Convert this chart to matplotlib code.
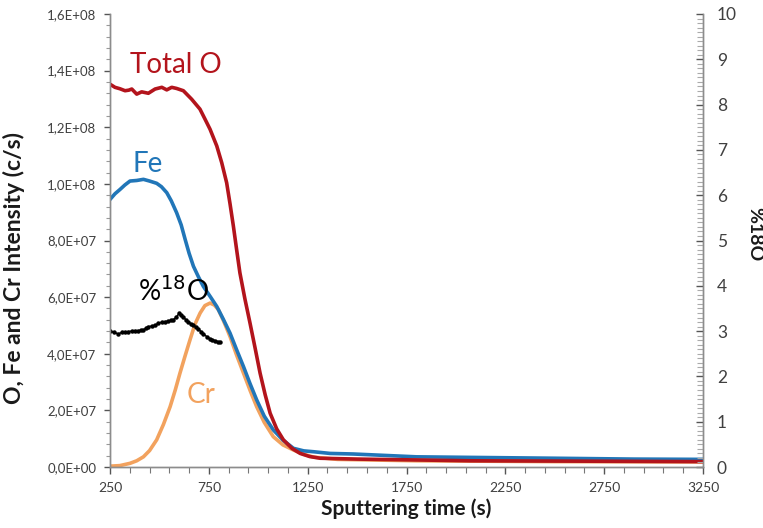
import numpy as np
import matplotlib
matplotlib.use("Agg")
import matplotlib.pyplot as plt
from matplotlib.ticker import MultipleLocator, FuncFormatter

plt.rcParams['font.family'] = ['Lato', 'DejaVu Sans']

# Total O intensity (c/s)
t_o = [250, 275, 300, 326, 345, 360, 385, 410, 444, 478, 512, 537, 562, 587, 621, 663, 705, 731,
       756, 790, 815, 840, 857, 874, 890, 907, 932, 958, 984, 1009, 1035, 1060, 1093, 1127, 1170,
       1212, 1260, 1313, 1500, 1800, 2072, 2500, 2900, 3250]
total_o = [1.352e8, 1.341e8, 1.336e8, 1.329e8, 1.331e8, 1.335e8, 1.317e8, 1.325e8, 1.320e8,
           1.335e8, 1.341e8, 1.332e8, 1.341e8, 1.337e8, 1.329e8, 1.299e8, 1.264e8, 1.228e8,
           1.193e8, 1.134e8, 1.075e8, 1.004e8, 0.930e8, 0.851e8, 0.770e8, 0.686e8, 0.595e8,
           0.509e8, 0.420e8, 0.332e8, 0.255e8, 0.190e8, 0.135e8, 0.096e8, 0.066e8,
           0.048e8, 0.037e8, 0.031e8, 0.028e8, 0.025e8, 0.022e8, 0.021e8, 0.020e8, 0.019e8]

# Fe intensity (c/s)
t_fe = [250, 275, 300, 325, 351, 385, 419, 450, 486, 510, 537, 560, 587, 610, 630, 650, 672, 697,
        722, 756, 790, 823, 857, 890, 925, 958, 992, 1030, 1076, 1125, 1178, 1230,
        1279, 1363, 1480, 1800, 2072, 2500, 2900, 3250]
fe = [0.945e8, 0.965e8, 0.980e8, 0.996e8, 1.010e8, 1.012e8, 1.016e8, 1.010e8, 1.002e8, 0.990e8,
      0.969e8, 0.940e8, 0.898e8, 0.855e8, 0.804e8, 0.755e8, 0.709e8, 0.672e8, 0.638e8, 0.603e8,
      0.567e8, 0.522e8, 0.473e8, 0.415e8, 0.355e8, 0.295e8, 0.237e8, 0.180e8, 0.131e8, 0.095e8,
      0.066e8, 0.057e8, 0.054e8, 0.048e8, 0.046e8, 0.036e8, 0.034e8, 0.031e8, 0.028e8, 0.027e8]

# Cr intensity (c/s)
t_cr = [250, 300, 351, 385, 419, 450, 486, 520, 554, 580, 604, 630, 655, 680, 706, 730, 756, 778,
        798, 825, 857, 890, 925, 960, 992, 1030, 1076, 1125, 1178, 1230, 1280,
        1400, 1800, 2500, 3250]
cr = [0.003e8, 0.005e8, 0.013e8, 0.022e8, 0.036e8, 0.058e8, 0.096e8, 0.150e8, 0.213e8, 0.272e8,
      0.332e8, 0.393e8, 0.450e8, 0.505e8, 0.544e8, 0.570e8, 0.579e8, 0.572e8, 0.556e8, 0.515e8,
      0.461e8, 0.396e8, 0.332e8, 0.268e8, 0.213e8, 0.158e8, 0.107e8, 0.078e8, 0.060e8, 0.045e8,
      0.035e8, 0.027e8, 0.022e8, 0.019e8, 0.018e8]

# %18O (right axis)
t_18 = [250, 270, 292, 310, 326, 343, 360, 376, 393, 406, 419, 432, 444, 461, 478, 495, 512,
        528, 545, 558, 570, 586, 599, 610, 621, 634, 646, 659, 672, 684, 697, 710, 722, 739,
        756, 768, 781, 794, 807]
o18 = [3.00, 2.97, 2.94, 2.97, 2.98, 2.99, 3.00, 3.01, 3.01, 3.02, 3.03, 3.06, 3.10, 3.11, 3.13,
       3.17, 3.20, 3.21, 3.22, 3.24, 3.25, 3.31, 3.39, 3.35, 3.31, 3.25, 3.20, 3.16, 3.13, 3.09,
       3.05, 2.99, 2.94, 2.88, 2.83, 2.81, 2.79, 2.77, 2.75]

RED = '#B3141C'
BLUE = '#2176B8'
ORANGE = '#F2A25E'
GRID = '#8C8C8C'

fig = plt.figure(figsize=(7.63, 5.28), dpi=100)
ax = fig.add_axes([0.1442, 0.1155, 0.7772, 0.858])
ax2 = ax.twinx()

ax.plot(t_cr, cr, color=ORANGE, lw=2.6, solid_capstyle='round', solid_joinstyle='round', zorder=2)
ax.plot(t_fe, fe, color=BLUE, lw=2.6, solid_capstyle='round', solid_joinstyle='round', zorder=3)
ax.plot(t_o, total_o, color=RED, lw=2.6, solid_capstyle='round', solid_joinstyle='round', zorder=4)
ax2.plot(t_18, o18, color='black', lw=1.1, marker='o', ms=2.2)

ax.set_xlim(250, 3250)
ax.set_ylim(0, 1.6e8)
ax2.set_ylim(0, 10)

ax.xaxis.set_major_locator(MultipleLocator(500, offset=250))
ax.xaxis.set_minor_locator(MultipleLocator(100, offset=50))
ax.yaxis.set_major_locator(MultipleLocator(2e7))
ax.yaxis.set_minor_locator(MultipleLocator(4e6))
ax2.yaxis.set_major_locator(MultipleLocator(1))
ax2.yaxis.set_minor_locator(MultipleLocator(0.1))

ax.yaxis.set_major_formatter(FuncFormatter(lambda v, p: ('%.1E' % v).replace('.', ',')))

for a in (ax, ax2):
    a.spines['top'].set_visible(False)
    for s in a.spines.values():
        s.set_color(GRID)
        s.set_linewidth(1.0)

ax.tick_params(axis='x', which='major', direction='out', length=5, width=1, color='#555555',
               labelsize=10, labelcolor='#404040', pad=6)
ax.tick_params(axis='x', which='minor', direction='out', length=4, width=0.8, color='#777777')
ax.tick_params(axis='y', which='major', direction='out', length=4, width=1, color='#555555',
               labelsize=9.5, labelcolor='#404040', pad=6)
ax.tick_params(axis='y', which='minor', direction='out', length=3, width=0.8, color='#999999')
ax2.tick_params(axis='y', which='major', direction='in', length=5, width=1, color='#555555',
                labelsize=12.5, labelcolor='#404040', pad=10)
ax2.tick_params(axis='y', which='minor', direction='in', length=4, width=0.8, color='#AAAAAA')

ax.set_xlabel('Sputtering time (s)', fontsize=15, fontweight='bold', color='#1a1a1a', labelpad=3)
ax.set_ylabel('O, Fe and Cr Intensity (c/s)', fontsize=16.5, fontweight='bold', color='#1a1a1a')
ax.yaxis.set_label_coords(-0.143, 0.44)
ax2.set_ylabel('%18O', fontsize=14, fontweight='bold', color='#1a1a1a', rotation=270,
               va='center')
ax2.yaxis.set_label_coords(1.088, 0.513)

ax.text(351, 1.42e8, 'Total O', color=RED, fontsize=20, ha='left', va='center')
ax.text(366, 1.07e8, 'Fe', color=BLUE, fontsize=20, ha='left', va='center')
ax.text(392, 0.62e8, '%$^{18}$O', color='black', fontsize=20, ha='left', va='center')
ax.text(635, 0.255e8, 'Cr', color=ORANGE, fontsize=20, ha='left', va='center')

fig.savefig('out.png', dpi=100)
